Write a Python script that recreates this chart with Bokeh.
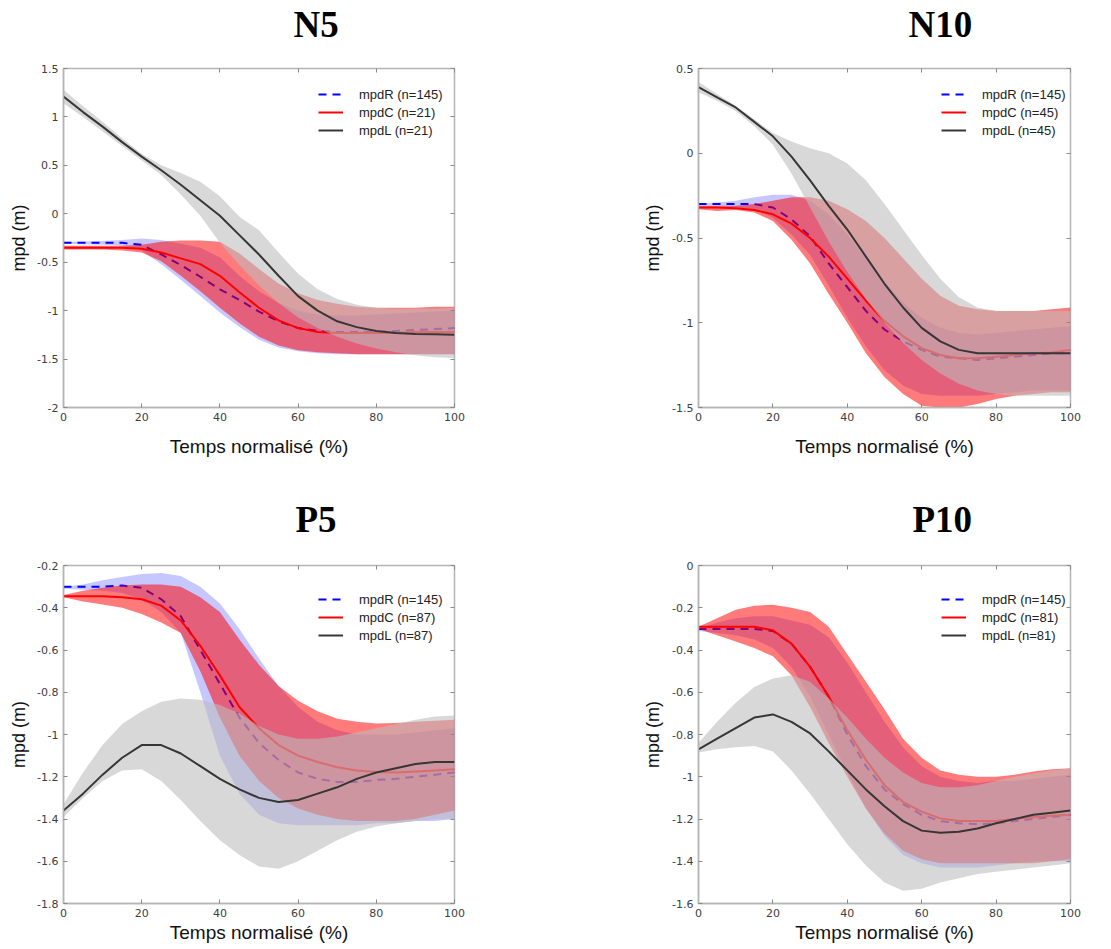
from bokeh.plotting import figure
from bokeh.layouts import column, row
from bokeh.models import Range1d, FixedTicker, LinearAxis, CustomJSTickFormatter, Legend, LegendItem
from bokeh.embed import file_html
from bokeh.resources import INLINE

# ---------------- data ----------------
x = [0, 5, 10, 15, 20, 25, 30, 35, 40, 45, 50, 55, 60, 65, 70, 75, 80, 85, 90, 95, 100]
x_ticks = [0, 20, 40, 60, 80, 100]

panel_titles = ["N5", "N10", "P5", "P10"]
n_R = 145
n_groups = [21, 45, 87, 81]

# N5
R_N5 = [-0.30, -0.30, -0.30, -0.30, -0.32, -0.42, -0.53, -0.65, -0.78, -0.89, -1.01, -1.11, -1.18, -1.21, -1.22, -1.22, -1.22, -1.21, -1.20, -1.19, -1.18]
R_N5_hi = [-0.29, -0.285, -0.28, -0.27, -0.255, -0.27, -0.31, -0.35, -0.45, -0.64, -0.80, -0.92, -1.00, -1.04, -1.05, -1.05, -1.04, -1.03, -1.02, -1.01, -1.00]
R_N5_lo = [-0.31, -0.315, -0.32, -0.33, -0.38, -0.52, -0.68, -0.85, -1.02, -1.17, -1.30, -1.38, -1.42, -1.44, -1.45, -1.45, -1.45, -1.45, -1.45, -1.45, -1.45]
C_N5 = [-0.35, -0.35, -0.35, -0.35, -0.36, -0.40, -0.46, -0.52, -0.64, -0.81, -0.97, -1.10, -1.18, -1.22, -1.23, -1.23, -1.23, -1.23, -1.22, -1.22, -1.22]
C_N5_hi = [-0.33, -0.33, -0.33, -0.33, -0.32, -0.29, -0.275, -0.275, -0.29, -0.41, -0.57, -0.72, -0.82, -0.89, -0.93, -0.96, -0.97, -0.97, -0.97, -0.96, -0.96]
C_N5_lo = [-0.37, -0.37, -0.37, -0.38, -0.40, -0.49, -0.64, -0.80, -0.97, -1.13, -1.27, -1.36, -1.41, -1.43, -1.44, -1.45, -1.45, -1.45, -1.45, -1.45, -1.45]
L_N5 = [1.21, 1.05, 0.90, 0.74, 0.59, 0.45, 0.30, 0.14, -0.02, -0.22, -0.42, -0.64, -0.85, -1.00, -1.11, -1.17, -1.21, -1.23, -1.24, -1.245, -1.25]
L_N5_hi = [1.28, 1.11, 0.95, 0.78, 0.62, 0.50, 0.42, 0.33, 0.18, -0.03, -0.17, -0.40, -0.62, -0.78, -0.88, -0.94, -0.97, -0.98, -0.98, -0.98, -0.97]
L_N5_lo = [1.14, 1.00, 0.85, 0.70, 0.55, 0.40, 0.20, -0.02, -0.30, -0.53, -0.74, -0.92, -1.07, -1.18, -1.27, -1.34, -1.39, -1.43, -1.46, -1.48, -1.49]

# N10
R_N10 = [-0.30, -0.30, -0.30, -0.30, -0.32, -0.39, -0.49, -0.65, -0.79, -0.93, -1.04, -1.11, -1.16, -1.20, -1.21, -1.22, -1.21, -1.20, -1.19, -1.18, -1.18]
R_N10_hi = [-0.295, -0.29, -0.28, -0.26, -0.245, -0.245, -0.28, -0.36, -0.48, -0.62, -0.76, -0.88, -0.97, -1.03, -1.06, -1.07, -1.06, -1.05, -1.04, -1.03, -1.02]
R_N10_lo = [-0.31, -0.31, -0.32, -0.33, -0.38, -0.48, -0.60, -0.78, -0.97, -1.14, -1.28, -1.37, -1.42, -1.43, -1.43, -1.43, -1.42, -1.41, -1.40, -1.40, -1.40]
C_N10 = [-0.32, -0.32, -0.325, -0.335, -0.36, -0.415, -0.50, -0.61, -0.74, -0.87, -0.99, -1.08, -1.15, -1.19, -1.21, -1.21, -1.20, -1.19, -1.18, -1.175, -1.16]
C_N10_hi = [-0.31, -0.31, -0.31, -0.30, -0.28, -0.26, -0.26, -0.28, -0.33, -0.40, -0.50, -0.62, -0.74, -0.84, -0.90, -0.92, -0.93, -0.93, -0.93, -0.92, -0.91]
C_N10_lo = [-0.33, -0.34, -0.335, -0.35, -0.40, -0.51, -0.65, -0.83, -1.00, -1.18, -1.32, -1.42, -1.49, -1.50, -1.50, -1.48, -1.45, -1.43, -1.42, -1.41, -1.41]
L_N10 = [0.39, 0.33, 0.27, 0.185, 0.10, -0.02, -0.16, -0.31, -0.45, -0.61, -0.77, -0.91, -1.03, -1.11, -1.16, -1.18, -1.18, -1.18, -1.18, -1.18, -1.18]
L_N10_hi = [0.42, 0.35, 0.28, 0.20, 0.12, 0.07, 0.03, 0.00, -0.06, -0.16, -0.30, -0.45, -0.60, -0.74, -0.85, -0.91, -0.93, -0.93, -0.93, -0.93, -0.93]
L_N10_lo = [0.36, 0.31, 0.25, 0.16, 0.05, -0.12, -0.32, -0.52, -0.70, -0.86, -1.00, -1.12, -1.22, -1.30, -1.36, -1.40, -1.42, -1.43, -1.43, -1.43, -1.43]

# P5
R_P5 = [-0.30, -0.30, -0.30, -0.295, -0.305, -0.36, -0.44, -0.60, -0.76, -0.92, -1.04, -1.12, -1.18, -1.21, -1.225, -1.225, -1.215, -1.21, -1.20, -1.19, -1.18]
R_P5_hi = [-0.30, -0.29, -0.27, -0.255, -0.24, -0.235, -0.25, -0.30, -0.38, -0.50, -0.64, -0.77, -0.87, -0.94, -0.98, -1.00, -1.00, -1.00, -0.99, -0.98, -0.97]
R_P5_lo = [-0.31, -0.315, -0.32, -0.33, -0.36, -0.42, -0.52, -0.80, -1.10, -1.28, -1.38, -1.42, -1.43, -1.43, -1.43, -1.43, -1.42, -1.42, -1.41, -1.41, -1.40]
C_P5 = [-0.345, -0.345, -0.345, -0.35, -0.36, -0.39, -0.46, -0.58, -0.72, -0.87, -0.97, -1.05, -1.10, -1.13, -1.155, -1.17, -1.178, -1.18, -1.175, -1.17, -1.165]
C_P5_hi = [-0.34, -0.32, -0.305, -0.295, -0.29, -0.29, -0.30, -0.35, -0.42, -0.55, -0.67, -0.77, -0.84, -0.89, -0.925, -0.94, -0.948, -0.945, -0.94, -0.935, -0.93]
C_P5_lo = [-0.35, -0.37, -0.385, -0.40, -0.43, -0.47, -0.52, -0.70, -0.92, -1.10, -1.22, -1.30, -1.35, -1.38, -1.40, -1.41, -1.41, -1.41, -1.40, -1.38, -1.36]
L_P5 = [-1.36, -1.28, -1.19, -1.11, -1.05, -1.05, -1.09, -1.15, -1.21, -1.26, -1.30, -1.32, -1.31, -1.28, -1.25, -1.21, -1.18, -1.16, -1.14, -1.13, -1.13]
L_P5_hi = [-1.33, -1.18, -1.05, -0.95, -0.89, -0.845, -0.83, -0.835, -0.86, -0.90, -0.96, -1.00, -1.02, -1.02, -1.01, -0.99, -0.97, -0.95, -0.93, -0.915, -0.91]
L_P5_lo = [-1.39, -1.30, -1.22, -1.17, -1.165, -1.22, -1.31, -1.41, -1.50, -1.57, -1.625, -1.635, -1.60, -1.55, -1.50, -1.46, -1.435, -1.42, -1.41, -1.40, -1.40]

# P10
R_P10 = [-0.30, -0.30, -0.30, -0.30, -0.31, -0.37, -0.48, -0.62, -0.80, -0.95, -1.06, -1.13, -1.18, -1.21, -1.22, -1.225, -1.22, -1.21, -1.20, -1.19, -1.18]
R_P10_hi = [-0.30, -0.27, -0.25, -0.24, -0.24, -0.26, -0.28, -0.34, -0.46, -0.60, -0.74, -0.86, -0.95, -1.00, -1.02, -1.03, -1.02, -1.02, -1.01, -1.00, -0.99]
R_P10_lo = [-0.31, -0.32, -0.33, -0.35, -0.39, -0.48, -0.62, -0.80, -0.98, -1.15, -1.28, -1.37, -1.41, -1.43, -1.43, -1.43, -1.42, -1.41, -1.40, -1.40, -1.40]
C_P10 = [-0.29, -0.29, -0.29, -0.29, -0.307, -0.37, -0.48, -0.62, -0.78, -0.92, -1.04, -1.12, -1.165, -1.197, -1.21, -1.21, -1.21, -1.20, -1.19, -1.185, -1.18]
C_P10_hi = [-0.29, -0.25, -0.21, -0.19, -0.186, -0.20, -0.22, -0.29, -0.42, -0.55, -0.68, -0.82, -0.91, -0.97, -0.99, -1.00, -1.00, -0.99, -0.975, -0.965, -0.96]
C_P10_lo = [-0.30, -0.33, -0.36, -0.39, -0.43, -0.52, -0.67, -0.84, -1.00, -1.15, -1.27, -1.35, -1.39, -1.41, -1.41, -1.41, -1.41, -1.41, -1.41, -1.40, -1.39]
L_P10 = [-0.87, -0.82, -0.77, -0.72, -0.705, -0.74, -0.795, -0.88, -0.97, -1.06, -1.14, -1.21, -1.255, -1.265, -1.26, -1.245, -1.22, -1.20, -1.18, -1.17, -1.16]
L_P10_hi = [-0.84, -0.74, -0.65, -0.575, -0.535, -0.52, -0.55, -0.63, -0.72, -0.82, -0.91, -0.98, -1.03, -1.05, -1.05, -1.04, -1.02, -1.00, -0.985, -0.97, -0.96]
L_P10_lo = [-0.885, -0.87, -0.86, -0.855, -0.88, -0.97, -1.08, -1.20, -1.32, -1.42, -1.50, -1.54, -1.53, -1.50, -1.48, -1.46, -1.45, -1.44, -1.43, -1.42, -1.41]

y_ticks_N5 = [-2, -1.5, -1, -0.5, 0, 0.5, 1, 1.5]
y_ticks_N10 = [-1.5, -1, -0.5, 0, 0.5]
y_ticks_P5 = [-1.8, -1.6, -1.4, -1.2, -1, -0.8, -0.6, -0.4, -0.2]
y_ticks_P10 = [-1.6, -1.4, -1.2, -1, -0.8, -0.6, -0.4, -0.2, 0]

# ---------------- styling ----------------
COL_R = "#0000ff"
COL_C = "#ff0000"
COL_L = "#363636"
FILL_L = "#bcbcbc"
FRAME = "#b5b5b5"
TICK_FONT = "DejaVu Sans"
LABEL_FONT = "Liberation Sans"


def make_panel(title, yticks, R, Rhi, Rlo, C, Chi, Clo, L, Lhi, Llo, n_c, geom):
    p = figure(
        frame_width=geom["fw"], frame_height=geom["fh"],
        min_border_left=geom["lb"], min_border_right=geom["rb"],
        min_border_top=geom["tb"], min_border_bottom=geom["bb"],
        x_range=Range1d(0, 100), y_range=Range1d(yticks[0], yticks[-1]),
        output_backend="svg", toolbar_location=None, tools="",
        background_fill_color="white", border_fill_color="white",
    )
    p.xgrid.visible = False
    p.ygrid.visible = False
    p.outline_line_color = FRAME
    p.outline_line_width = 1.5

    fmt = CustomJSTickFormatter(code="return (Math.round(tick*10)/10).toString();")
    for ax, ticks in ((p.xaxis[0], x_ticks), (p.yaxis[0], yticks)):
        ax.ticker = FixedTicker(ticks=ticks)
        ax.formatter = fmt
        ax.axis_line_color = FRAME
        ax.axis_line_width = 1.5
        ax.major_tick_in = 4
        ax.major_tick_out = 0
        ax.major_tick_line_color = "#8a8a8a"
        ax.minor_tick_line_color = None
        ax.major_label_text_font = TICK_FONT
        ax.major_label_text_font_size = "11px"
        ax.major_label_text_color = "#404040"
        ax.axis_label_text_font = LABEL_FONT
        ax.axis_label_text_font_style = "normal"
        ax.axis_label_text_color = "#111111"
    p.xaxis[0].axis_label = "Temps normalisé (%)"
    p.xaxis[0].axis_label_text_font_size = "19px"
    p.xaxis[0].major_label_standoff = 5
    p.xaxis[0].axis_label_standoff = geom["xls"]
    p.yaxis[0].axis_label = "mpd (m)"
    p.yaxis[0].axis_label_text_font_size = "18px"
    p.yaxis[0].major_label_standoff = 5
    p.yaxis[0].axis_label_standoff = geom["yls"]

    # inward ticks on top and right edges (box style)
    for side, ticks in (("above", x_ticks), ("right", yticks)):
        ax2 = LinearAxis(ticker=FixedTicker(ticks=ticks), formatter=fmt,
                         axis_line_color=None, major_tick_in=4, major_tick_out=0,
                         major_tick_line_color="#8a8a8a", minor_tick_line_color=None,
                         major_label_text_font_size="1px", major_label_text_color=None,
                         major_label_standoff=0)
        p.add_layout(ax2, side)
    # invisible spacer between the frame and the title
    spacer = LinearAxis(ticker=FixedTicker(ticks=x_ticks), formatter=fmt,
                        axis_line_color=None, major_tick_in=0, major_tick_out=geom["tsp"],
                        major_tick_line_color=None, minor_tick_line_color=None,
                        major_label_text_font_size="1px", major_label_text_color=None,
                        major_label_standoff=0)
    p.add_layout(spacer, "above")

    p.varea(x=x, y1=Rlo, y2=Rhi, fill_color=COL_R, fill_alpha=0.22)
    r_line = p.line(x, R, line_color=COL_R, line_width=2, line_dash="8 6")
    p.varea(x=x, y1=Clo, y2=Chi, fill_color=COL_C, fill_alpha=0.52)
    c_line = p.line(x, C, line_color=COL_C, line_width=2)
    p.varea(x=x, y1=Llo, y2=Lhi, fill_color=FILL_L, fill_alpha=0.58)
    l_line = p.line(x, L, line_color=COL_L, line_width=2)

    legend = Legend(items=[
        LegendItem(label=f"mpdR (n={n_R})", renderers=[r_line]),
        LegendItem(label=f"mpdC (n={n_c})", renderers=[c_line]),
        LegendItem(label=f"mpdL (n={n_c})", renderers=[l_line]),
    ], location=geom["leg"])
    legend.border_line_color = None
    legend.background_fill_alpha = 0
    legend.padding = 4
    legend.margin = 0
    legend.spacing = 0
    legend.glyph_width = 25
    legend.glyph_height = 18
    legend.label_height = 18
    legend.label_standoff = 16
    legend.label_text_font = LABEL_FONT
    legend.label_text_font_size = "13px"
    legend.label_text_color = "#222222"
    p.add_layout(legend)

    p.title.text = title
    p.title.text_font = "Liberation Serif"
    p.title.text_font_style = "bold"
    p.title.text_font_size = "37px"
    p.title.text_color = "black"
    p.title.align = "left"
    p.title.offset = geom["tx"]
    p.title.standoff = 0
    return p


g_tl = dict(lb=63, fw=391, rb=106, tb=68, fh=339, bb=63, xls=12, yls=5, leg=(255, 268), tx=230, tsp=24)
g_tr = dict(lb=138, fw=372, rb=33, tb=68, fh=339, bb=63, xls=12, yls=6, leg=(243, 268), tx=210, tsp=24)
g_bl = dict(lb=63, fw=391, rb=106, tb=95, fh=338, bb=38, xls=2, yls=5, leg=(255, 259), tx=232, tsp=26)
g_br = dict(lb=138, fw=372, rb=33, tb=95, fh=338, bb=38, xls=2, yls=6, leg=(243, 259), tx=214, tsp=26)

p1 = make_panel(panel_titles[0], y_ticks_N5, R_N5, R_N5_hi, R_N5_lo, C_N5, C_N5_hi, C_N5_lo, L_N5, L_N5_hi, L_N5_lo, n_groups[0], g_tl)
p2 = make_panel(panel_titles[1], y_ticks_N10, R_N10, R_N10_hi, R_N10_lo, C_N10, C_N10_hi, C_N10_lo, L_N10, L_N10_hi, L_N10_lo, n_groups[1], g_tr)
p3 = make_panel(panel_titles[2], y_ticks_P5, R_P5, R_P5_hi, R_P5_lo, C_P5, C_P5_hi, C_P5_lo, L_P5, L_P5_hi, L_P5_lo, n_groups[2], g_bl)
p4 = make_panel(panel_titles[3], y_ticks_P10, R_P10, R_P10_hi, R_P10_lo, C_P10, C_P10_hi, C_P10_lo, L_P10, L_P10_hi, L_P10_lo, n_groups[3], g_br)

layout = column(row(p1, p2), row(p3, p4))
open("out.html", "w").write(file_html(layout, INLINE))
